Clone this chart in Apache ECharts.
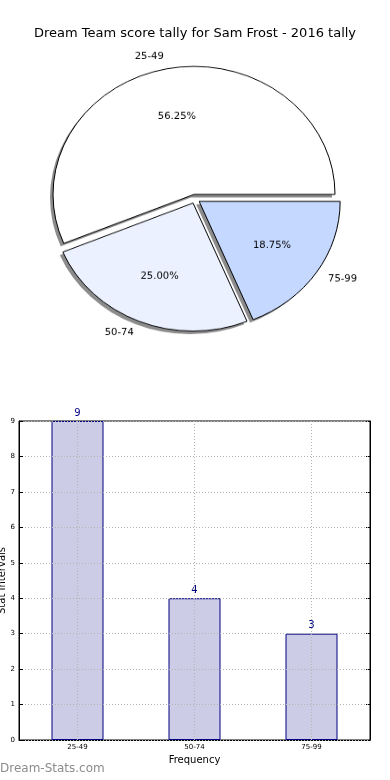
<!DOCTYPE html>
<html>
<head>
<meta charset="utf-8">
<script src="https://cdn.jsdelivr.net/npm/echarts@6/dist/echarts.min.js"></script>
<style>
html,body{margin:0;padding:0;background:#fff;}
#bar{position:absolute;left:0;top:0;width:390px;height:780px;}
#pie{position:absolute;left:0;top:0;width:390px;height:440px;transform:scaleY(0.908);transform-origin:0 0;}
</style>
</head>
<body>
<div id="bar"></div>
<div id="pie"></div>
<script>
const titleText = 'Dream Team score tally for Sam Frost - 2016 tally';
const categories = ['25-49', '50-74', '75-99'];
const counts = [9, 4, 3];
const percentLabels = ['56.25%', '25.00%', '18.75%'];
const sliceColors = ['#ffffff', '#ebf1ff', '#c5d8ff'];
const yTicks = [0, 9, 1];

const FONT = 'DejaVu Sans';
const GRIDLINE = {color: '#b4b4b4', type: [1, 2], width: 1};

const bar = echarts.init(document.getElementById('bar'), null, {renderer: 'canvas'});
bar.setOption({
  backgroundColor: '#fff',
  animation: false,
  title: {
    text: titleText,
    left: 'center',
    top: 22,
    textStyle: {fontFamily: FONT, fontSize: 13, fontWeight: 'normal', color: '#000'}
  },
  graphic: [{
    type: 'text', left: 0, top: 763,
    style: {text: 'Dream-Stats.com', fill: '#8c8c8c', font: '12px "DejaVu Sans"'}
  }],
  grid: {left: 19, right: 20, top: 421, bottom: 40, show: true, borderColor: '#000', borderWidth: 1, backgroundColor: 'transparent', outerBoundsMode: 'none', containLabel: false},
  xAxis: {
    type: 'category',
    data: categories,
    name: 'Frequency',
    nameLocation: 'middle',
    nameGap: 15,
    nameMoveOverlap: false,
    nameTextStyle: {fontFamily: FONT, fontSize: 10, color: '#000'},
    axisLine: {lineStyle: {color: '#000', width: 1}},
    axisTick: {show: true, alignWithLabel: true, inside: true, length: 4, lineStyle: {color: '#000'}},
    axisLabel: {fontFamily: FONT, fontSize: 7, color: '#000', margin: 4},
    splitLine: {show: false}
  },
  yAxis: [{
    type: 'value',
    min: yTicks[0], max: yTicks[1], interval: yTicks[2],
    z: 3,
    name: 'Stat Intervals',
    nameLocation: 'middle',
    nameGap: 12,
    nameMoveOverlap: false,
    nameTextStyle: {fontFamily: FONT, fontSize: 10, color: '#000'},
    axisLine: {show: true, lineStyle: {color: '#000', width: 1}},
    axisTick: {show: true, inside: true, length: 4, lineStyle: {color: '#000'}},
    axisLabel: {fontFamily: FONT, fontSize: 7, color: '#000', margin: 4},
    splitLine: {show: true, lineStyle: GRIDLINE}
  }, {
    type: 'value',
    position: 'right',
    min: yTicks[0], max: yTicks[1], interval: yTicks[2],
    axisLine: {show: true, lineStyle: {color: '#000', width: 1}},
    axisTick: {show: true, inside: true, length: 4, lineStyle: {color: '#000'}},
    axisLabel: {show: false},
    splitLine: {show: false}
  }],
  series: [{
    type: 'bar',
    data: counts,
    barWidth: 52,
    itemStyle: {color: '#cccce6', borderColor: '#000080', borderWidth: 1},
    label: {show: true, position: 'top', distance: 3, color: '#000080', fontFamily: FONT, fontSize: 10},
    markLine: {
      silent: true,
      symbol: ['none', 'none'],
      label: {show: false},
      lineStyle: GRIDLINE,
      data: categories.map(c => ({xAxis: c}))
    }
  }]
});

const pie = echarts.init(document.getElementById('pie'), null, {renderer: 'canvas'});
const R = 141;
const center = [195, 219];
const shadowCenter = [192, 222.3];
const common = {
  type: 'pie', radius: [0, R], startAngle: 0, clockwise: false,
  selectedMode: 'multiple', selectedOffset: 5, avoidLabelOverlap: false,
  emphasis: {disabled: true}
};
pie.setOption({
  animation: false,
  series: [Object.assign({}, common, {
    center: shadowCenter,
    silent: true,
    z: 1,
    data: categories.map((c, i) => ({name: c, value: counts[i], selected: true})),
    itemStyle: {color: '#8c8c8c', borderWidth: 0},
    select: {itemStyle: {color: '#8c8c8c', borderWidth: 0}},
    label: {show: false},
    labelLine: {show: false}
  }), Object.assign({}, common, {
    center: center,
    z: 2,
    data: categories.map((c, i) => ({
      name: c, value: counts[i], selected: true,
      itemStyle: {color: sliceColors[i]}
    })),
    itemStyle: {borderColor: '#000', borderWidth: 1},
    select: {itemStyle: {borderColor: '#000', borderWidth: 1}},
    label: {show: true, position: 'outside', formatter: '{b}', fontFamily: FONT, fontSize: 10, color: '#000', distanceToLabelLine: 0},
    labelLine: {show: false, length: 14, length2: 0}
  }), Object.assign({}, common, {
    center: center,
    radius: [0, R * 1.2],
    silent: true,
    z: 3,
    data: categories.map((c, i) => ({name: c, value: counts[i], selected: true})),
    itemStyle: {color: 'rgba(0,0,0,0)', borderWidth: 0},
    select: {itemStyle: {color: 'rgba(0,0,0,0)', borderWidth: 0}},
    label: {show: true, position: 'inside', formatter: p => percentLabels[p.dataIndex], fontFamily: FONT, fontSize: 10, color: '#000'},
    labelLine: {show: false}
  })]
});
</script>
</body>
</html>
